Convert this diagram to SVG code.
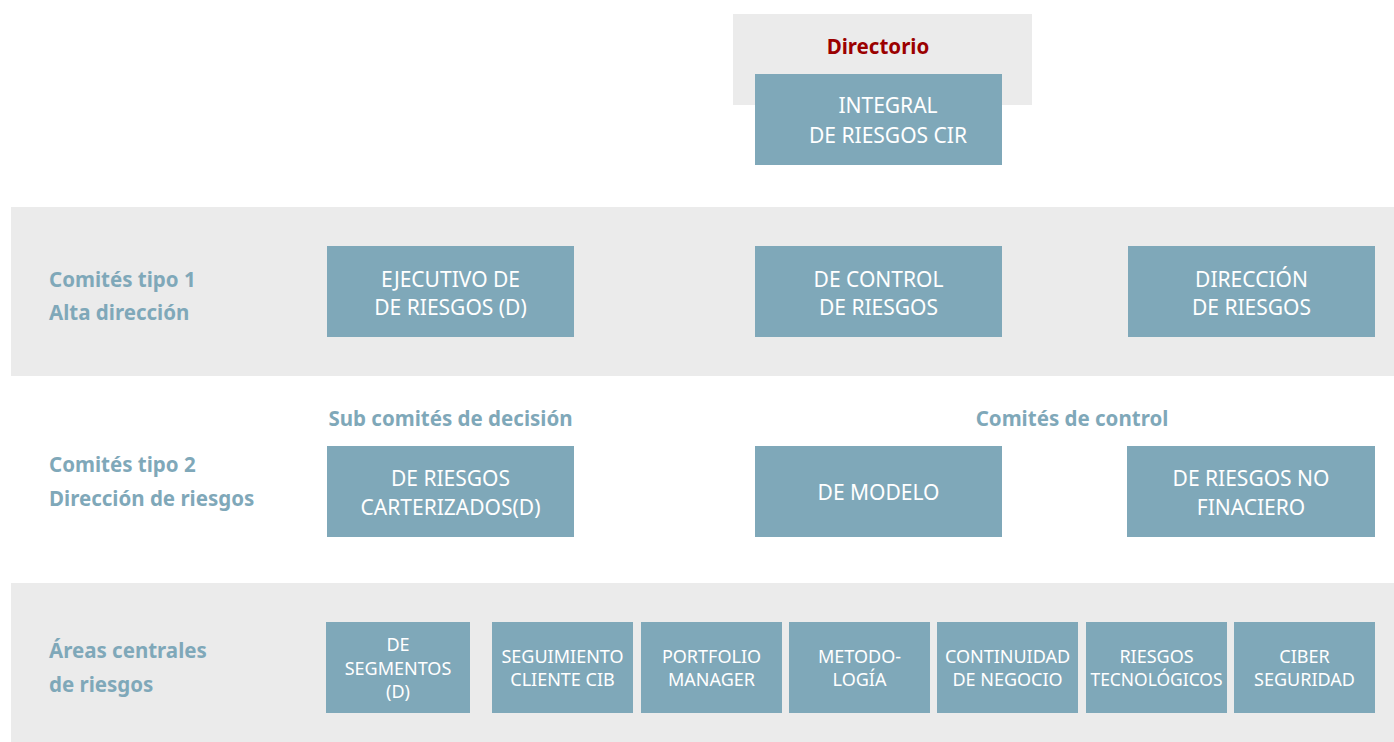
<svg xmlns="http://www.w3.org/2000/svg" width="1394" height="742" viewBox="0 0 1394 742">
<style>
.band{fill:#ebebeb}
.box{fill:#7fa8b9}
.bt{font-family:"Noto Sans","Liberation Sans",sans-serif;font-size:21px;fill:#ffffff;text-anchor:middle}
.st{font-family:"Noto Sans","Liberation Sans",sans-serif;font-size:18px;fill:#ffffff;text-anchor:middle}
.lbl{font-family:"Noto Sans","Liberation Sans",sans-serif;font-size:20.5px;font-weight:bold;fill:#7fa8b9}
.dir{font-family:"Noto Sans","Liberation Sans",sans-serif;font-size:20.5px;font-weight:bold;fill:#9b0000;text-anchor:middle}
</style>
<rect width="1394" height="742" fill="#ffffff"/>
<g id="bands">
<rect class="band" x="733" y="14" width="299" height="91"/>
<rect class="band" x="11" y="207" width="1383" height="169"/>
<rect class="band" x="11" y="583" width="1383" height="159"/>
</g>
<g id="labels">
<text class="dir" x="878" y="54">Directorio</text>
<text class="lbl" x="49" y="287">Comités tipo 1</text>
<text class="lbl" x="49" y="320">Alta dirección</text>
<text class="lbl" x="49" y="472">Comités tipo 2</text>
<text class="lbl" x="49" y="506">Dirección de riesgos</text>
<text class="lbl" x="49" y="658">Áreas centrales</text>
<text class="lbl" x="49" y="692">de riesgos</text>
<text class="lbl" x="450.5" y="426" text-anchor="middle">Sub comités de decisión</text>
<text class="lbl" x="1072" y="426" text-anchor="middle">Comités de control</text>
</g>
<g id="connectors"/>
<g id="integral">
<rect class="box" x="755" y="74" width="247" height="91"/>
<text class="bt" x="888" y="113">INTEGRAL</text>
<text class="bt" x="888" y="143">DE RIESGOS CIR</text>
</g>
<g id="ejecutivo">
<rect class="box" x="327" y="246" width="247" height="91"/>
<text class="bt" x="450.5" y="287">EJECUTIVO DE</text>
<text class="bt" x="450.5" y="315">DE RIESGOS (D)</text>
</g>
<g id="control">
<rect class="box" x="755" y="246" width="247" height="91"/>
<text class="bt" x="878.5" y="287">DE CONTROL</text>
<text class="bt" x="878.5" y="315">DE RIESGOS</text>
</g>
<g id="direccion">
<rect class="box" x="1128" y="246" width="247" height="91"/>
<text class="bt" x="1251.5" y="287">DIRECCIÓN</text>
<text class="bt" x="1251.5" y="315">DE RIESGOS</text>
</g>
<g id="carterizados">
<rect class="box" x="327" y="446" width="247" height="91"/>
<text class="bt" x="450.5" y="486">DE RIESGOS</text>
<text class="bt" x="450.5" y="515">CARTERIZADOS(D)</text>
</g>
<g id="modelo">
<rect class="box" x="755" y="446" width="247" height="91"/>
<text class="bt" x="878.5" y="500">DE MODELO</text>
</g>
<g id="nofinanciero">
<rect class="box" x="1127" y="446" width="248" height="91"/>
<text class="bt" x="1251" y="486">DE RIESGOS NO</text>
<text class="bt" x="1251" y="515">FINACIERO</text>
</g>
<g id="segmentos">
<rect class="box" x="326" y="622" width="144" height="91"/>
<text class="st" x="398" y="651">DE</text>
<text class="st" x="398" y="675">SEGMENTOS</text>
<text class="st" x="398" y="698">(D)</text>
</g>
<g id="seguimiento">
<rect class="box" x="492" y="622" width="141" height="91"/>
<text class="st" x="562.5" y="663">SEGUIMIENTO</text>
<text class="st" x="562.5" y="686">CLIENTE CIB</text>
</g>
<g id="portfolio">
<rect class="box" x="641" y="622" width="141" height="91"/>
<text class="st" x="711.5" y="663">PORTFOLIO</text>
<text class="st" x="711.5" y="686">MANAGER</text>
</g>
<g id="metodologia">
<rect class="box" x="789" y="622" width="141" height="91"/>
<text class="st" x="859.5" y="663">METODO-</text>
<text class="st" x="859.5" y="686">LOGÍA</text>
</g>
<g id="continuidad">
<rect class="box" x="937" y="622" width="141" height="91"/>
<text class="st" x="1007.5" y="663">CONTINUIDAD</text>
<text class="st" x="1007.5" y="686">DE NEGOCIO</text>
</g>
<g id="tecnologicos">
<rect class="box" x="1086" y="622" width="141" height="91"/>
<text class="st" x="1156.5" y="663">RIESGOS</text>
<text class="st" x="1156.5" y="686" textLength="132" lengthAdjust="spacingAndGlyphs">TECNOLÓGICOS</text>
</g>
<g id="ciber">
<rect class="box" x="1234" y="622" width="141" height="91"/>
<text class="st" x="1304.5" y="663">CIBER</text>
<text class="st" x="1304.5" y="686">SEGURIDAD</text>
</g>
</svg>
